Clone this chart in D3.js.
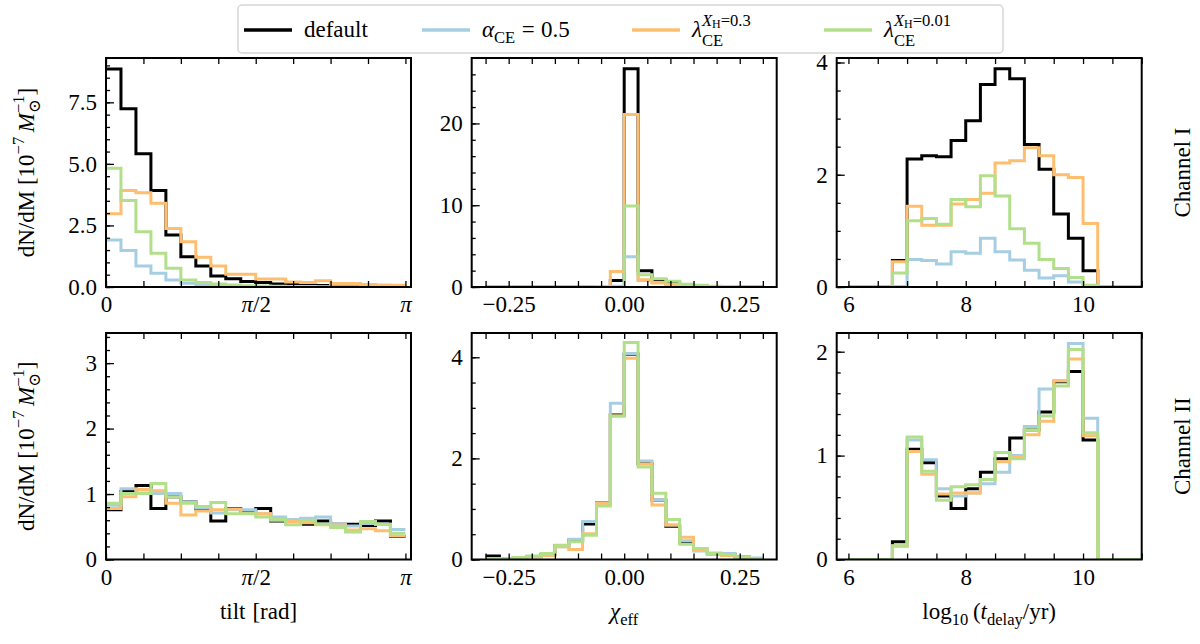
<!DOCTYPE html>
<html>
<head>
<meta charset="utf-8">
<script src="https://cdnjs.cloudflare.com/ajax/libs/d3/7.8.5/d3.min.js"></script>
<style>
  body { margin: 0; background: #fff; }
  svg { font-family: "Liberation Serif", "DejaVu Serif", serif; }
</style>
</head>
<body>
<svg id="chart" width="1200" height="644"></svg>
<script>
// bin edges
let tiltEdges = d3.range(21).map(i => i * Math.PI / 20)
let chiEdges = [-0.3, -0.27, -0.24, -0.21, -0.18, -0.15, -0.12, -0.09, -0.06, -0.03, 0,
                0.03, 0.06, 0.09, 0.12, 0.15, 0.18, 0.21, 0.24, 0.27, 0.3]
let delayEdges = [6, 6.25, 6.5, 6.75, 7, 7.25, 7.5, 7.75, 8, 8.25, 8.5,
                  8.75, 9, 9.25, 9.5, 9.75, 10, 10.25, 10.5, 10.75, 11]

let seriesNames = ["default", "alpha", "lam03", "lam001"]
let colors = ["#000000", "#a6cee3", "#fdbf6f", "#b2df8a"]

// Channel I
let chI_tilt_default = [8.85, 7.24, 5.41, 3.92, 2.11, 1.23, 0.85, 0.45, 0.33, 0.22, 0.18, 0.12, 0.1, 0.08, 0.06, 0.05, 0.04, 0.03, 0.03, 0.02]
let chI_tilt_alpha   = [1.91, 1.48, 0.85, 0.56, 0.28, 0.15, 0.08, 0.05, 0.03, 0.02, 0.02, 0.01, 0.01, 0.01, 0, 0, 0, 0, 0, 0]
let chI_tilt_lam03   = [2.97, 3.92, 3.83, 3.40, 2.38, 1.84, 1.21, 0.85, 0.52, 0.52, 0.32, 0.32, 0.2, 0.18, 0.25, 0.14, 0.14, 0.1, 0.08, 0.07]
let chI_tilt_lam001  = [4.82, 3.51, 2.24, 1.37, 0.76, 0.28, 0.18, 0.12, 0.08, 0.05, 0.04, 0.03, 0.02, 0.02, 0.01, 0.01, 0.01, 0.01, 0, 0]

let chI_chi_default = [0, 0, 0, 0, 0, 0, 0, 0, 0.05, 0.78, 26.7, 2.0, 0.9, 0.45, 0.2, 0.1, 0.05, 0.03, 0.02, 0.01]
let chI_chi_alpha   = [0, 0, 0, 0, 0, 0, 0, 0, 0.02, 0.1, 3.7, 0.8, 0.55, 0.3, 0.15, 0.08, 0.04, 0.02, 0.01, 0]
let chI_chi_lam03   = [0, 0, 0, 0, 0, 0, 0, 0, 0.05, 1.9, 21.1, 0.9, 0.5, 0.25, 0.12, 0.06, 0.03, 0.02, 0.01, 0]
let chI_chi_lam001  = [0, 0, 0, 0, 0, 0, 0, 0, 0.02, 0.05, 9.9, 1.5, 1.0, 0.7, 0.35, 0.2, 0.1, 0.05, 0.02, 0.01]

let chI_delay_default = [0, 0, 0, 0.47, 2.28, 2.34, 2.32, 2.61, 2.96, 3.61, 3.89, 3.71, 2.54, 2.10, 1.30, 0.87, 0.29, 0, 0, 0]
let chI_delay_alpha   = [0, 0, 0, 0.01, 0.49, 0.47, 0.41, 0.63, 0.60, 0.87, 0.63, 0.48, 0.30, 0.16, 0.20, 0.09, 0.01, 0, 0, 0]
let chI_delay_lam03   = [0, 0, 0, 0.45, 1.44, 1.10, 1.10, 1.48, 1.56, 1.67, 2.21, 2.25, 2.48, 2.34, 2.0, 1.95, 1.13, 0, 0, 0]
let chI_delay_lam001  = [0, 0, 0, 0.25, 1.18, 1.22, 1.12, 1.56, 1.43, 1.98, 1.62, 1.04, 0.78, 0.49, 0.33, 0.17, 0.03, 0, 0, 0]

// Channel II
let chII_tilt_default = [0.76, 1.04, 1.13, 0.78, 0.96, 0.88, 0.77, 0.59, 0.78, 0.73, 0.78, 0.59, 0.61, 0.54, 0.59, 0.54, 0.54, 0.52, 0.59, 0.35]
let chII_tilt_alpha   = [0.83, 1.08, 1.06, 1.01, 1.01, 0.88, 0.79, 0.71, 0.76, 0.76, 0.70, 0.65, 0.61, 0.63, 0.65, 0.54, 0.51, 0.55, 0.54, 0.46]
let chII_tilt_lam03   = [0.78, 0.96, 1.07, 1.05, 0.86, 0.68, 0.74, 0.76, 0.77, 0.71, 0.70, 0.60, 0.58, 0.56, 0.53, 0.51, 0.45, 0.47, 0.44, 0.36]
let chII_tilt_lam001  = [0.86, 1.01, 1.01, 1.16, 0.96, 0.86, 0.81, 0.87, 0.70, 0.70, 0.65, 0.61, 0.53, 0.60, 0.54, 0.49, 0.42, 0.58, 0.54, 0.40]

let chII_chi_default = [0.07, 0.02, 0.03, 0.06, 0.10, 0.27, 0.37, 0.70, 1.12, 2.86, 4.06, 1.90, 1.17, 0.66, 0.35, 0.18, 0.12, 0.10, 0.05, 0.02]
let chII_chi_alpha   = [0.02, 0.02, 0.03, 0.06, 0.09, 0.25, 0.40, 0.75, 1.12, 3.09, 4.07, 1.95, 1.17, 0.68, 0.37, 0.17, 0.10, 0.12, 0.05, 0.03]
let chII_chi_lam03   = [0.01, 0.02, 0.03, 0.05, 0.08, 0.25, 0.20, 0.51, 1.11, 2.84, 3.98, 1.89, 1.08, 0.68, 0.44, 0.18, 0.13, 0.08, 0.05, 0.02]
let chII_chi_lam001  = [0.01, 0.02, 0.04, 0.07, 0.12, 0.28, 0.35, 0.48, 1.06, 2.84, 4.29, 1.83, 1.31, 0.79, 0.30, 0.22, 0.12, 0.10, 0.05, 0.02]

let chII_delay_default = [0, 0, 0, 0.17, 1.06, 0.93, 0.61, 0.49, 0.68, 0.84, 0.97, 1.17, 1.25, 1.42, 1.71, 1.81, 1.15, 0, 0, 0]
let chII_delay_alpha   = [0, 0, 0, 0.13, 1.15, 0.96, 0.68, 0.61, 0.64, 0.73, 0.84, 1.00, 1.28, 1.64, 1.72, 2.08, 1.36, 0, 0, 0]
let chII_delay_lam03   = [0, 0, 0, 0.13, 1.04, 0.82, 0.63, 0.64, 0.64, 0.77, 0.94, 0.99, 1.20, 1.33, 1.72, 1.93, 1.19, 0, 0, 0]
let chII_delay_lam001  = [0, 0, 0, 0.13, 1.18, 0.85, 0.57, 0.70, 0.72, 0.77, 1.03, 0.97, 1.25, 1.38, 1.67, 2.02, 1.22, 0, 0, 0]

// tick labels
let tiltTicks = d3.range(9).map(i => i * Math.PI / 8)
let tiltTickLabels = ["0", "", "", "", "π/2", "", "", "", "π"]
let chiTicks = d3.range(13).map(i => -0.3 + i * 0.05)
let chiTickLabels = ["", "−0.25", "", "", "", "", "0.00", "", "", "", "", "0.25", ""]
let delayTicks = d3.range(11).map(i => 6 + i * 0.5)
let delayTickLabels = ["6", "", "", "", "8", "", "", "", "10", "", ""]
let rowLabels = ["Channel I", "Channel II"]

let svg = d3.select("#chart")
let fs = 23
let colX = [106, 471.7, 836.7]
let colW = 305
let rowY = [58, 333]
let rowH = [229, 226.5]

let columns = [
  {edges: tiltEdges, xDom: [0, 3.2], ticks: tiltTicks, labels: tiltTickLabels},
  {edges: chiEdges, xDom: [-0.33, 0.33], ticks: chiTicks, labels: chiTickLabels},
  {edges: delayEdges, xDom: [5.8, 11.0], ticks: delayTicks, labels: delayTickLabels}
]

let panels = [
  {row: 0, col: 0, data: [chI_tilt_default, chI_tilt_alpha, chI_tilt_lam03, chI_tilt_lam001],
   yMax: 9.3, yMajor: [0, 2.5, 5, 7.5], yMinor: d3.range(19).map(i => i * 0.5), fmt: d3.format(".1f")},
  {row: 0, col: 1, data: [chI_chi_default, chI_chi_alpha, chI_chi_lam03, chI_chi_lam001],
   yMax: 28, yMajor: [0, 10, 20], yMinor: d3.range(14).map(i => i * 2), fmt: d3.format("d")},
  {row: 0, col: 2, data: [chI_delay_default, chI_delay_alpha, chI_delay_lam03, chI_delay_lam001],
   yMax: 4.08, yMajor: [0, 2, 4], yMinor: d3.range(9).map(i => i * 0.5), fmt: d3.format("d")},
  {row: 1, col: 0, data: [chII_tilt_default, chII_tilt_alpha, chII_tilt_lam03, chII_tilt_lam001],
   yMax: 3.46, yMajor: [0, 1, 2, 3], yMinor: d3.range(18).map(i => i * 0.2), fmt: d3.format("d")},
  {row: 1, col: 1, data: [chII_chi_default, chII_chi_alpha, chII_chi_lam03, chII_chi_lam001],
   yMax: 4.48, yMajor: [0, 2, 4], yMinor: d3.range(9).map(i => i * 0.5), fmt: d3.format("d")},
  {row: 1, col: 2, data: [chII_delay_default, chII_delay_alpha, chII_delay_lam03, chII_delay_lam001],
   yMax: 2.18, yMajor: [0, 1, 2], yMinor: d3.range(11).map(i => i * 0.2), fmt: d3.format("d")}
]

// lays out a run of plain / italic / shifted pieces, returns group and width
let mathText = (parent, runs, size) => {
  let g = parent.append("g")
  let x = 0, keepEnd = null
  runs.forEach(r => {
    if (r.gap) { x += r.gap * size; return }
    if (!r.sh && keepEnd !== null) { x = Math.max(x, keepEnd); keepEnd = null }
    let t = g.append("text")
      .attr("x", x)
      .attr("y", -(r.sh || 0) * size)
      .attr("font-size", size * (r.sc || 1))
      .attr("font-style", r.it ? "italic" : null)
      .attr("fill", "#000")
      .text(r.t)
    let w = t.node().getComputedTextLength()
    if (r.keep) keepEnd = x + w
    else x += w
  })
  if (keepEnd !== null) x = Math.max(x, keepEnd)
  return {g: g, w: x}
}

let centered = (parent, runs, size, tx, ty, rot) => {
  let outer = parent.append("g")
    .attr("transform", "translate(" + tx + "," + ty + ")" + (rot ? " rotate(" + rot + ")" : ""))
  let m = mathText(outer, runs, size)
  m.g.attr("transform", "translate(" + (-m.w / 2) + ",0)")
}

// step outline, no drop to zero at the outer edges
let stepPoints = (edges, vals) => {
  let pts = []
  vals.forEach((v, i) => {
    pts.push([edges[i], v])
    pts.push([edges[i + 1], v])
  })
  return pts
}

let styleAxis = (g) => {
  g.attr("font-family", null).attr("font-size", null)
  g.select(".domain").remove()
  g.selectAll(".tick line").attr("stroke", "#000").attr("stroke-width", 1.3)
  g.selectAll("text").attr("font-size", fs).attr("fill", "#000")
  g.selectAll("text").each(function () {
    let s = this.textContent
    if (s.indexOf("π") >= 0) {
      let t = d3.select(this).text(null)
      t.append("tspan").attr("font-style", "italic").text("π")
      if (s.length > 1) t.append("tspan").text(s.slice(1))
    }
  })
}

panels.forEach((p, pi) => {
  let c = columns[p.col]
  let w = colW, h = rowH[p.row]
  let g = svg.append("g").attr("transform", "translate(" + colX[p.col] + "," + rowY[p.row] + ")")

  let x = d3.scaleLinear().domain(c.xDom).range([0, w])
  let y = d3.scaleLinear().domain([0, p.yMax]).range([h, 0])

  g.append("clipPath").attr("id", "clip" + pi)
    .append("rect").attr("width", w).attr("height", h)

  let line = d3.line().x(d => x(d[0])).y(d => y(d[1]))

  g.append("g").attr("clip-path", "url(#clip" + pi + ")")
    .selectAll("path")
    .data(p.data)
    .enter()
    .append("path")
    .attr("d", d => line(stepPoints(c.edges, d)))
    .attr("fill", "none")
    .attr("stroke", (d, i) => colors[i])
    .attr("stroke-width", 3)
    .attr("stroke-linejoin", "miter")

  // y ticks, inward, left only
  g.append("g")
    .call(d3.axisLeft(y).tickValues(p.yMinor).tickSize(-4).tickFormat(""))
    .call(styleAxis)
  g.append("g")
    .call(d3.axisLeft(y).tickValues(p.yMajor).tickSize(-8).tickPadding(9).tickFormat(p.fmt))
    .call(styleAxis)

  // x ticks, bottom and top
  g.append("g")
    .attr("transform", "translate(0," + h + ")")
    .call(d3.axisBottom(x).tickValues(c.ticks).tickSize(-6).tickPadding(9)
      .tickFormat((d, i) => c.labels[i]))
    .call(styleAxis)
  g.append("g")
    .call(d3.axisTop(x).tickValues(c.ticks).tickSize(-6).tickFormat(""))
    .call(styleAxis)

  g.append("rect")
    .attr("width", w).attr("height", h)
    .attr("fill", "none").attr("stroke", "#000").attr("stroke-width", 2)
})

// axis labels
let xLabelRuns = [
  [{t: "tilt"}, {gap: 0.3}, {t: "[rad]"}],
  [{t: "χ", it: 1}, {t: "eff", sc: 0.72, sh: -0.25}],
  [{t: "log"}, {t: "10", sc: 0.72, sh: -0.25}, {gap: 0.2}, {t: "("}, {t: "t", it: 1},
   {t: "delay", sc: 0.72, sh: -0.25}, {t: "/yr)"}]
]
xLabelRuns.forEach((runs, i) => centered(svg, runs, fs, colX[i] + colW / 2, 619))

let yLabelRuns = [{t: "dN/dM"}, {gap: 0.25}, {t: "[10"}, {t: "−7", sc: 0.72, sh: 0.42}, {gap: 0.2},
  {t: "M", it: 1}, {t: "⊙", sc: 0.72, sh: -0.28, keep: 1}, {t: "−1", sc: 0.72, sh: 0.42}, {t: "]"}]
rowY.forEach((ry, r) => {
  centered(svg, yLabelRuns, fs, 34, ry + rowH[r] / 2, -90)
  centered(svg, [{t: rowLabels[r]}], fs, 1190, ry + rowH[r] / 2, -90)
})

// legend
let legend = svg.append("g")
legend.append("rect")
  .attr("x", 238).attr("y", 5).attr("width", 765).attr("height", 48).attr("rx", 4)
  .attr("fill", "#fff").attr("stroke", "#d6d6d6").attr("stroke-width", 1.5)

let legendRuns = [
  [{t: "default"}],
  [{t: "α", it: 1}, {t: "CE", sc: 0.72, sh: -0.25}, {gap: 0.28}, {t: "="}, {gap: 0.28}, {t: "0.5"}],
  [{t: "λ", it: 1}, {t: "CE", sc: 0.72, sh: -0.38, keep: 1}, {t: "X", it: 1, sc: 0.72, sh: 0.5},
   {t: "H", sc: 0.52, sh: 0.4}, {t: "=0.3", sc: 0.72, sh: 0.5}],
  [{t: "λ", it: 1}, {t: "CE", sc: 0.72, sh: -0.38, keep: 1}, {t: "X", it: 1, sc: 0.72, sh: 0.5},
   {t: "H", sc: 0.52, sh: 0.4}, {t: "=0.01", sc: 0.72, sh: 0.5}]
]
let legendX = [244, 422, 632, 824]

seriesNames.forEach((name, i) => {
  legend.append("line")
    .attr("x1", legendX[i]).attr("x2", legendX[i] + 48)
    .attr("y1", 30).attr("y2", 30)
    .attr("stroke", colors[i]).attr("stroke-width", 3.5)
  let m = mathText(legend, legendRuns[i], fs)
  m.g.attr("transform", "translate(" + (legendX[i] + 60) + ",37)")
})
</script>
</body>
</html>
